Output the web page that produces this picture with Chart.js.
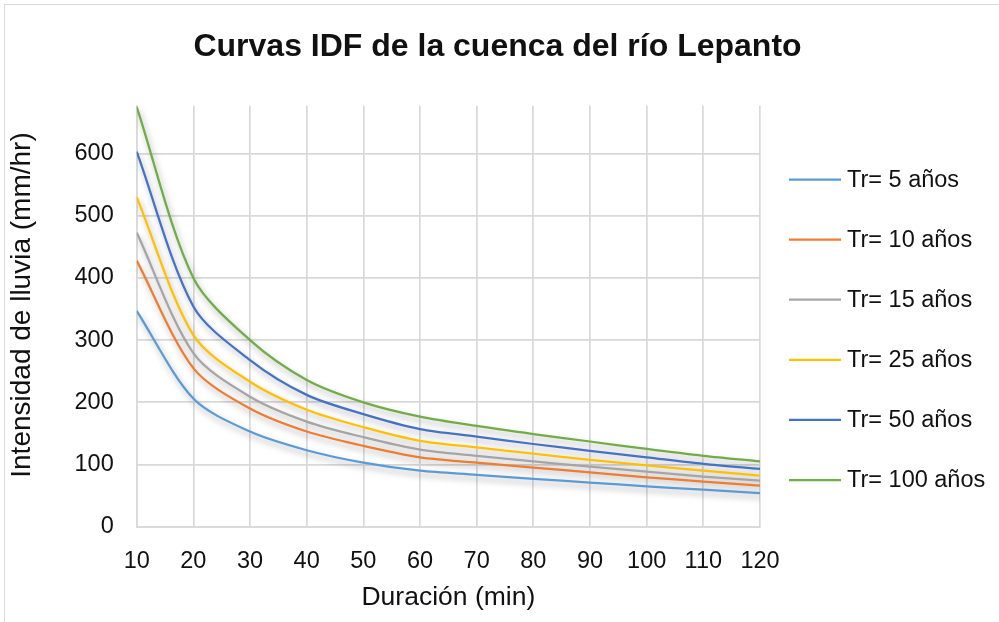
<!DOCTYPE html>
<html lang="es">
<head>
<meta charset="utf-8">
<title>Curvas IDF</title>
<script src="https://cdn.jsdelivr.net/npm/chart.js@4/dist/chart.umd.min.js"></script>
<style>
  html, body { margin: 0; padding: 0; background: #ffffff; }
  #wrap { position: relative; width: 999px; height: 622px; overflow: hidden; }
  #frame { position: absolute; left: 4px; top: 4px; width: 1100px; height: 700px;
           border: 1px solid #d9d9d9; box-sizing: border-box; pointer-events: none; }
  canvas { position: absolute; left: 0; top: 0; }
</style>
</head>
<body>
<div id="wrap">
  <div id="frame"></div>
  <canvas id="idf" width="999" height="622"></canvas>
</div>
<script>
// Duración de la lluvia (min)
const duraciones = [10, 20, 30, 40, 50, 60, 70, 80, 90, 100, 110, 120];

// Intensidad (mm/hr) por periodo de retorno
const tr5   = [347, 206, 153, 123, 103,  90,  83.5,  77,   71,   65,   59.5, 54];
const tr10  = [428, 255, 190, 153, 130, 111.5, 103,  95,   87.5, 79.5, 72.5, 66];
const tr15  = [473, 279, 209, 169, 144, 124,  114,  105,   96.5, 88.5, 80.5, 74];
const tr25  = [530, 308, 233, 188, 160, 138,  127.5, 117.5, 107.5, 98.5, 90,  82];
const tr50  = [603, 354, 268, 212, 181, 157,  145,  133,  122,  111.5, 101,  93];
const tr100 = [675, 400, 300, 236, 200, 177,  162,  149,  137,  125,  114,  105];

const etiquetas = ['Tr= 5 años', 'Tr= 10 años', 'Tr= 15 años', 'Tr= 25 años', 'Tr= 50 años', 'Tr= 100 años'];
const series = [tr5, tr10, tr15, tr25, tr50, tr100];
const colores = ['#5B9BD5', '#ED7D31', '#A5A5A5', '#FFC000', '#4472C4', '#70AD47'];

const titulo = 'Curvas IDF de la cuenca del río Lepanto';
const tituloEjeY = 'Intensidad de lluvia (mm/hr)';

const FONT = "'Liberation Sans', Arial, Helvetica, sans-serif";
const GRID = '#d9d9d9';
const TEXT = '#111111';

const datasets = series.map((vals, i) => ({
  label: etiquetas[i],
  data: duraciones.map((d, j) => ({ x: d, y: vals[j] })),
  borderColor: colores[i],
  backgroundColor: colores[i],
  borderWidth: 2.25,
  pointRadius: 0,
  pointHoverRadius: 0,
  tension: 0.3,
  fill: false
}));

// Sombra suave bajo las curvas
const sombra = {
  id: 'sombra',
  beforeDatasetsDraw(chart) {
    const ctx = chart.ctx;
    ctx.save();
    ctx.shadowColor = 'rgba(0,0,0,0.33)';
    ctx.shadowBlur = 6;
    ctx.shadowOffsetX = 2;
    ctx.shadowOffsetY = 4;
  },
  afterDatasetsDraw(chart) {
    chart.ctx.restore();
  }
};

// Título general (centrado en todo el lienzo) y título del eje vertical
const textos = {
  id: 'textos',
  afterDraw(chart) {
    const ctx = chart.ctx;
    ctx.save();
    ctx.fillStyle = TEXT;
    ctx.textAlign = 'center';
    ctx.textBaseline = 'middle';
    ctx.font = 'bold 32px ' + FONT;
    ctx.fillText(titulo, 497.5, 47);
    ctx.translate(22, 305);
    ctx.rotate(-Math.PI / 2);
    ctx.font = '28px ' + FONT;
    ctx.fillText(tituloEjeY, 0, 0);
    ctx.restore();
  }
};

// Leyenda a la derecha, una entrada por serie
const leyenda = {
  id: 'leyenda',
  afterDraw(chart) {
    const ctx = chart.ctx;
    ctx.save();
    ctx.font = '23.5px ' + FONT;
    ctx.textBaseline = 'middle';
    ctx.textAlign = 'left';
    chart.data.datasets.forEach((ds, i) => {
      const y = 179.5 + i * 60.1;
      ctx.strokeStyle = ds.borderColor;
      ctx.lineWidth = 2.25;
      ctx.beginPath();
      ctx.moveTo(789, y);
      ctx.lineTo(841, y);
      ctx.stroke();
      ctx.fillStyle = TEXT;
      ctx.fillText(ds.label, 847, y + 1);
    });
    ctx.restore();
  }
};

new Chart(document.getElementById('idf'), {
  type: 'line',
  data: { datasets },
  options: {
    responsive: false,
    animation: false,
    events: [],
    layout: { padding: { left: 0, right: 239, top: 105.7, bottom: 4 } },
    plugins: {
      legend: { display: false },
      tooltip: { enabled: false },
      title: { display: false }
    },
    scales: {
      x: {
        type: 'linear',
        min: 10,
        max: 120,
        afterFit(scale) { scale.height = 91.3; },
        ticks: {
          stepSize: 10,
          color: TEXT,
          padding: 21,
          maxRotation: 0,
          font: { family: FONT, size: 23.5 }
        },
        grid: { color: GRID, lineWidth: 1.7, drawTicks: false },
        border: { color: GRID, width: 1.7 },
        title: {
          display: true,
          text: 'Duración (min)',
          color: TEXT,
          font: { family: FONT, size: 26.5, lineHeight: 1.2 },
          padding: { top: 0, bottom: 4 }
        }
      },
      y: {
        type: 'linear',
        min: 0,
        max: 677,
        afterFit(scale) { scale.width = 136.7; },
        ticks: {
          stepSize: 100,
          includeBounds: false,
          color: TEXT,
          padding: 23,
          font: { family: FONT, size: 23.5 }
        },
        grid: { color: GRID, lineWidth: 1.7, drawTicks: false },
        border: { color: GRID, width: 1.7 },
        title: { display: false }
      }
    }
  },
  plugins: [sombra, textos, leyenda]
});
</script>
</body>
</html>
